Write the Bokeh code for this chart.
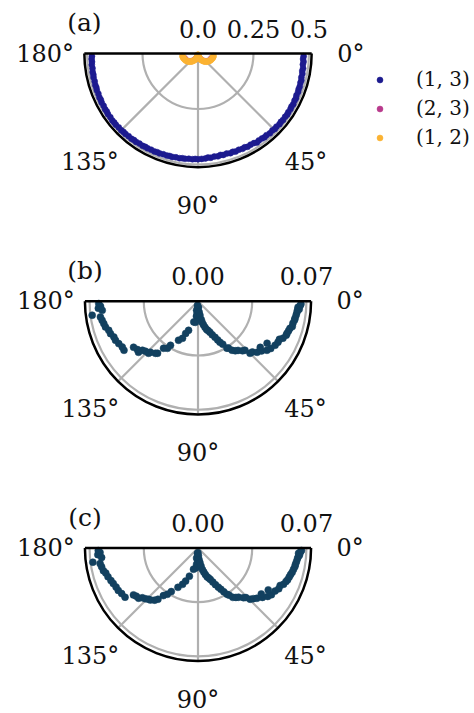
import numpy as np
from bokeh.plotting import figure
from bokeh.layouts import column
from bokeh.models import Range1d, Legend, LegendItem
from bokeh.core.properties import value
from bokeh.embed import file_html
from bokeh.resources import INLINE

FONT = "DejaVu Serif"

# ---- data: (angle in degrees, radius) ----
# panel (a): pair (1, 3)
a13 = [
    (1.5, 0.476), (3, 0.474), (4.5, 0.477), (6, 0.475), (8, 0.478), (9.5, 0.476),
    (11, 0.479), (13, 0.478), (14.5, 0.481), (16, 0.480), (18, 0.482), (19.5, 0.481),
    (21, 0.483), (23, 0.482), (24.5, 0.485), (26, 0.484), (28, 0.486), (29.5, 0.484),
    (31, 0.486), (33, 0.485), (34.5, 0.487), (36, 0.485), (38, 0.486), (39.5, 0.484),
    (41, 0.486), (43, 0.483), (44.5, 0.485), (46, 0.482), (48, 0.484), (50, 0.480),
    (51.5, 0.482), (53, 0.479), (55, 0.478), (56.5, 0.481), (58, 0.476), (60, 0.474),
    (62, 0.476), (63.5, 0.472), (65, 0.474), (67, 0.471), (69, 0.473), (70.5, 0.470),
    (72, 0.472), (74, 0.469), (76, 0.471), (77.5, 0.468), (79, 0.472), (81, 0.470),
    (83, 0.473), (84.5, 0.471), (86, 0.474), (88, 0.475), (90, 0.476), (91.5, 0.475),
    (93, 0.477), (95, 0.476), (97, 0.478), (98.5, 0.477), (100, 0.479), (102, 0.478),
    (104, 0.480), (105.5, 0.479), (107, 0.481), (109, 0.480), (111, 0.482), (112.5, 0.481),
    (114, 0.483), (116, 0.482), (118, 0.484), (119.5, 0.483), (121, 0.485), (123, 0.484),
    (125, 0.486), (126.5, 0.485), (128, 0.487), (130, 0.486), (132, 0.488), (133.5, 0.487),
    (135, 0.489), (137, 0.488), (139, 0.490), (140.5, 0.489), (142, 0.490), (144, 0.488),
    (146, 0.489), (147.5, 0.487), (149, 0.488), (151, 0.486), (153, 0.487), (154.5, 0.485),
    (156, 0.486), (158, 0.484), (160, 0.485), (161.5, 0.483), (163, 0.484), (165, 0.482),
    (167, 0.483), (168.5, 0.481), (170, 0.482), (172, 0.480), (174, 0.481), (175.5, 0.479),
    (177, 0.480), (178.5, 0.478),
]
# panel (a): pair (2, 3) -- sits on the (1, 2) lobes near the pole
a23 = [
    (20, 0.064), (35, 0.057), (50, 0.044), (65, 0.029), (80, 0.011),
    (100, 0.011), (115, 0.029), (130, 0.044), (145, 0.057), (160, 0.064),
]
# panel (a): pair (1, 2)
a12 = [
    (9, 0.071), (13, 0.070), (17, 0.069), (21, 0.067), (26, 0.065), (30, 0.063),
    (35, 0.060), (40, 0.056), (45, 0.052), (50, 0.047), (55, 0.042), (60, 0.036),
    (65, 0.031), (70, 0.025), (75, 0.019), (80, 0.012), (85, 0.006),
    (95, 0.006), (100, 0.012), (105, 0.019), (110, 0.025), (115, 0.031), (120, 0.036),
    (125, 0.042), (130, 0.047), (135, 0.052), (140, 0.056), (145, 0.060), (150, 0.063),
    (154, 0.065), (159, 0.067), (163, 0.069), (167, 0.070), (171, 0.071),
]

# panel (b)
b_pts = [
    (92, 0.004), (94, 0.008), (97, 0.0026), (99, 0.0059), (96, 0.0097), (97, 0.0137),
    (101.5, 0.0136), (108, 0.0197), (111, 0.0222), (112.7, 0.0259), (116.6, 0.0281),
    (122, 0.0335), (123, 0.0362), (126.3, 0.0376), (127.9, 0.0425), (129.3, 0.0434),
    (133, 0.0450), (133.6, 0.0463), (136.4, 0.0468), (138.6, 0.0478), (139.4, 0.0506),
    (141.5, 0.0500), (144.5, 0.0511), (146.5, 0.0573), (148.9, 0.0571), (151.9, 0.0580),
    (154.7, 0.0589), (157, 0.0590), (159.7, 0.0602), (162, 0.0606), (164.5, 0.0620),
    (166.7, 0.0625), (168.8, 0.0631), (170.9, 0.0638), (172.5, 0.0689), (174.6, 0.0621),
    (176, 0.0645), (177.1, 0.0630), (178.7, 0.0641),
    (86, 0.004), (84, 0.007), (82, 0.0091), (80, 0.0120), (79, 0.0138), (77, 0.0155),
    (75, 0.0174), (73, 0.0190), (71, 0.0200), (69, 0.0214), (67, 0.0235), (64.7, 0.0257),
    (63, 0.0280), (61.8, 0.0300), (60, 0.0320), (58.3, 0.0356), (57, 0.0360),
    (55.2, 0.0385), (53, 0.0400), (50.8, 0.0409), (48, 0.0430), (46.2, 0.0438),
    (45, 0.0475), (43, 0.0480), (40.8, 0.0504), (38, 0.0520), (36.5, 0.0500),
    (35.4, 0.0546), (33, 0.0560), (31.3, 0.0522), (29.7, 0.0573), (27.1, 0.0580),
    (25, 0.0580), (23.5, 0.0598), (21, 0.0610), (19.8, 0.0611), (18, 0.0615),
    (16.4, 0.0619), (15, 0.0630), (13, 0.0629), (11, 0.0635), (9.9, 0.0636), (8, 0.0640),
    (6.3, 0.0643), (5, 0.0645), (4.5, 0.0655), (3.4, 0.0647), (2.5, 0.0660), (1.5, 0.0665),
]

# panel (c)
c_pts = [
    (91, 0.003), (93, 0.0075), (96, 0.0035), (98, 0.0065), (95, 0.0105), (96.5, 0.0130),
    (102, 0.0140), (107, 0.0190), (110.5, 0.0228), (113, 0.0255), (117, 0.0285),
    (121.5, 0.0330), (123.5, 0.0358), (126, 0.0380), (128, 0.0420), (129.8, 0.0438),
    (132.5, 0.0455), (134, 0.0460), (136, 0.0472), (138.2, 0.0482), (139.8, 0.0502),
    (142, 0.0505), (144, 0.0515), (146, 0.0568), (149.2, 0.0574), (152, 0.0583),
    (154.5, 0.0586), (157.3, 0.0593), (159.5, 0.0600), (162.3, 0.0610), (164.8, 0.0617),
    (166.5, 0.0628), (169, 0.0634), (171, 0.0640), (172.3, 0.0685), (174.4, 0.0625),
    (176.2, 0.0648), (177.4, 0.0633), (178.5, 0.0644),
    (87, 0.005), (85, 0.0075), (82.5, 0.0095), (80.5, 0.0118), (78.5, 0.0142), (76.5, 0.0160),
    (74.5, 0.0178), (72.5, 0.0195), (70.5, 0.0205), (68.5, 0.0218), (66.5, 0.0240),
    (64.5, 0.0262), (62.5, 0.0285), (61, 0.0305), (59.5, 0.0328), (58, 0.0352),
    (56.5, 0.0365), (54.8, 0.0390), (52.5, 0.0402), (50.5, 0.0412), (47.5, 0.0435),
    (46, 0.0445), (44.5, 0.0472), (42.5, 0.0484), (40.5, 0.0500), (37.5, 0.0524),
    (36, 0.0505), (34.8, 0.0548), (32.5, 0.0562), (30.8, 0.0528), (29.2, 0.0570),
    (26.8, 0.0584), (24.5, 0.0583), (23, 0.0600), (20.8, 0.0608), (19.5, 0.0614),
    (17.6, 0.0618), (16, 0.0622), (14.5, 0.0628), (12.6, 0.0632), (10.8, 0.0637),
    (9.5, 0.0638), (7.8, 0.0642), (6, 0.0646), (4.8, 0.0650), (4, 0.0657),
    (3, 0.0650), (2.2, 0.0662), (1.4, 0.0668),
]

theta_ticks = [0, 45, 90, 135, 180]
theta_labels = ["0°", "45°", "90°", "135°", "180°"]

a_rgrid = [0.25, 0.5]
a_rticks = [0.0, 0.25, 0.5]
a_rlabels = ["0.0", "0.25", "0.5"]

bc_rgrid = [0.035, 0.07]
bc_rticks = [0.0, 0.07]
bc_rlabels = ["0.00", "0.07"]

series_a = [("(1, 3)", a13, "#1c1a8f"), ("(2, 3)", a23, "#b83a8c"), ("(1, 2)", a12, "#fbb232")]

GRID = "#b0b0b0"
TEXT = "#111111"
W = 474


def to_xy(pts):
    th = np.deg2rad([t for t, _ in pts])
    r = np.array([v for _, v in pts], dtype=float)
    return r * np.cos(th), -r * np.sin(th)


def half_polar(height, scale, cx, cy, rmax, rgrid, rticks, rlabels, tag):
    p = figure(width=W, height=height, output_backend="svg", toolbar_location=None,
               x_range=Range1d(-cx / scale, (W - cx) / scale),
               y_range=Range1d(-(height - cy) / scale, cy / scale),
               x_axis_location=None, y_axis_location=None, min_border=0,
               outline_line_color=None, background_fill_color="white",
               border_fill_color="white")
    p.grid.grid_line_color = None

    # radial grid circles and angular spokes
    n = len(rgrid)
    p.arc(x=[0] * n, y=[0] * n, radius=rgrid, start_angle=np.pi, end_angle=2 * np.pi,
          line_color=GRID, line_width=2.2)
    sp = np.deg2rad([45, 90, 135])
    p.segment(x0=[0] * 3, y0=[0] * 3, x1=rmax * np.cos(sp), y1=-rmax * np.sin(sp),
              line_color=GRID, line_width=2.2)

    # angle labels
    rl = 1.345 * rmax
    tt = np.deg2rad(theta_ticks)
    p.text(x=rl * np.cos(tt), y=-rl * np.sin(tt), text=theta_labels,
           text_align="center", text_baseline="middle", text_font=value(FONT),
           text_font_size="24px", text_color=TEXT)
    # radial labels along the top edge
    p.text(x=rticks, y=[0] * len(rticks), text=rlabels, y_offset=-25,
           text_align="center", text_baseline="middle", text_font=value(FONT),
           text_font_size="24px", text_color=TEXT)
    # panel tag
    p.text(x=[-rmax], y=[0], text=[tag], y_offset=-31, text_align="center",
           text_baseline="middle", text_font=value(FONT), text_font_size="25px",
           text_color=TEXT)
    return p


def frame(p, rmax):
    p.arc(x=[0], y=[0], radius=[rmax], start_angle=np.pi, end_angle=2 * np.pi,
          line_color="black", line_width=2.5)
    p.segment(x0=[-rmax], y0=[0], x1=[rmax], y1=[0], line_color="black", line_width=2.5)


# ---- panel (a) ----
ra = 0.512
pa = half_polar(248, 222.0, 197.5, 53, ra, a_rgrid, a_rticks, a_rlabels, "(a)")
items = []
for label, pts, col in series_a:
    x, y = to_xy(pts)
    rr = pa.scatter(x=x, y=y, size=6, fill_color=col, line_color=col, line_width=0.5)
    items.append(LegendItem(label=label, renderers=[rr]))
frame(pa, ra)
legend = Legend(items=items, location=(372, 99), glyph_width=15, glyph_height=15,
                label_standoff=29, spacing=5, padding=0, margin=0,
                border_line_color=None, background_fill_alpha=0,
                label_text_font=FONT, label_text_font_size="20px",
                label_text_color=TEXT)
pa.add_layout(legend)

# ---- panel (b) ----
rb = 0.073
pb = half_polar(248, 1549.0, 197.5, 52.8, rb, bc_rgrid, bc_rticks, bc_rlabels, "(b)")
xb, yb = to_xy(b_pts)
pb.scatter(x=xb, y=yb, size=7, fill_color="#12405f", line_color="#12405f", line_width=0.5)
frame(pb, rb)

# ---- panel (c) ----
pc = half_polar(217, 1549.0, 197.5, 51.5, rb, bc_rgrid, bc_rticks, bc_rlabels, "(c)")
xc, yc = to_xy(c_pts)
pc.scatter(x=xc, y=yc, size=7, fill_color="#12405f", line_color="#12405f", line_width=0.5)
frame(pc, rb)

layout = column(pa, pb, pc, spacing=0)
open("out.html", "w").write(file_html(layout, INLINE))
